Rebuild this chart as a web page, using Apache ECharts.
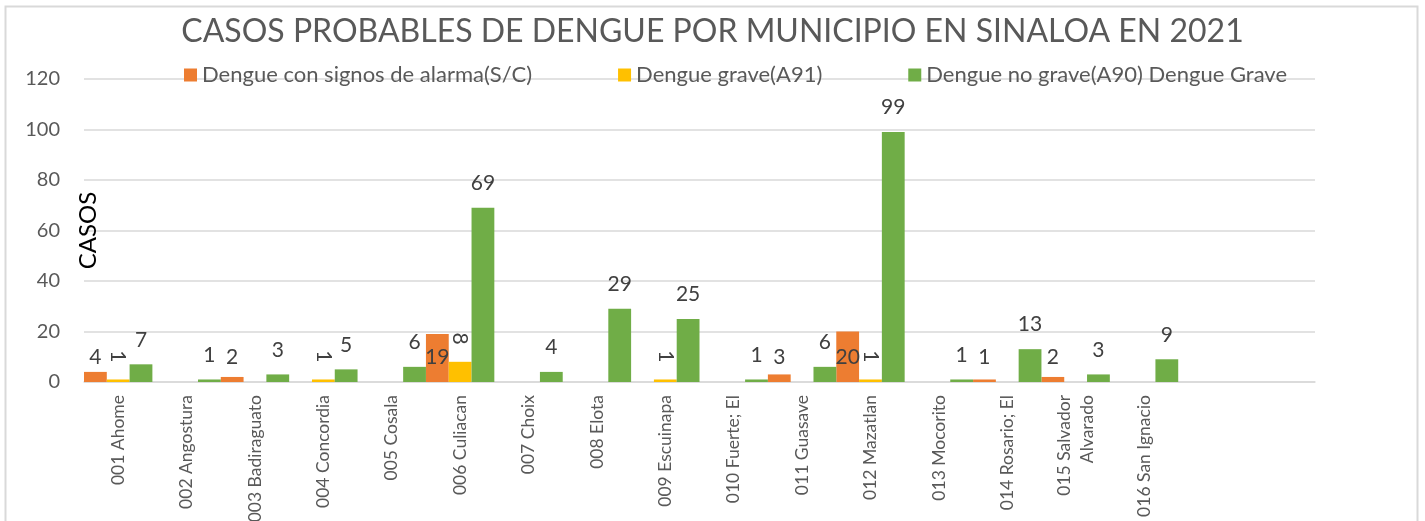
<!DOCTYPE html>
<html>
<head>
<meta charset="utf-8">
<title>Casos probables de dengue por municipio en Sinaloa 2021</title>
<script src="https://cdn.jsdelivr.net/npm/echarts@6/dist/echarts.min.js"></script>
<style>
    html, body { margin: 0; padding: 0; background: #fff; }
    #dengueChart { width: 1425px; height: 521px; }
</style>
</head>
<body>
<div id="dengueChart"></div>
<script>
var dom = document.getElementById("dengueChart");
var myChart;

// municipios (las dos ultimas categorias vienen vacias en la hoja)
var municipios = [
    '001 Ahome', '002 Angostura', '003 Badiraguato', '004 Concordia',
    '005 Cosala', '006 Culiacan', '007 Choix', '008 Elota',
    '009 Escuinapa', '010 Fuerte; El', '011 Guasave', '012 Mazatlan',
    '013 Mocorito', '014 Rosario; El', '015 Salvador\nAlvarado', '016 San Ignacio',
    '', ''
];

var nombresSeries = [
    'Dengue con signos de alarma(S/C)',
    'Dengue grave(A91)',
    'Dengue no grave(A90) Dengue Grave'
];

// null = celda vacia
var conAlarma = [4, null, 2, null, null, 19, null, null, null, null, 3, 20, null, 1, 2, null, null, null];
var grave     = [1, null, null, 1, null, 8, null, null, 1, null, null, 1, null, null, null, null, null, null];
var noGrave   = [7, 1, 3, 5, 6, 69, 4, 29, 25, 1, 6, 99, 1, 13, 3, 9, null, null];

var ticksY = { min: 0, max: 120, interval: 20 };

var fuente = 'Lato';
var grisTexto = '#595959';
var grisLinea = '#D9D9D9';

function initDengueChart() {
    var option = {
        backgroundColor: '#ffffff',
        animation: false,
        textStyle: { fontFamily: fuente },

        title: {
            text: 'CASOS PROBABLES DE DENGUE POR MUNICIPIO EN SINALOA EN 2021',
            left: 'center',
            top: 11,
            textStyle: {
                color: grisTexto,
                fontFamily: fuente,
                fontWeight: 'normal',
                fontSize: 32
            }
        },

        legend: {
            left: 179,
            top: 59,
            icon: 'rect',
            itemWidth: 13,
            itemHeight: 13,
            itemGap: 86,
            textStyle: {
                color: grisTexto,
                fontFamily: fuente,
                fontSize: 22
            },
            data: nombresSeries
        },

        grid: {
            left: 84,
            right: 110,
            top: 79,
            bottom: 139,
            outerBoundsMode: 'none'
        },

        xAxis: {
            type: 'category',
            data: municipios,
            axisTick: { show: false },
            axisLine: { lineStyle: { color: grisLinea, width: 1.5 } },
            axisLabel: {
                interval: 0,
                rotate: 90,
                margin: 13,
                color: grisTexto,
                fontFamily: fuente,
                fontSize: 17.5,
                lineHeight: 23
            }
        },

        yAxis: {
            type: 'value',
            min: ticksY.min,
            max: ticksY.max,
            interval: ticksY.interval,
            name: 'CASOS',
            nameLocation: 'middle',
            nameRotate: 90,
            nameGap: -16,
            nameMoveOverlap: false,
            nameTextStyle: {
                color: '#000000',
                fontFamily: fuente,
                fontSize: 24
            },
            axisLine: { show: false },
            axisTick: { show: false },
            axisLabel: {
                margin: 24,
                color: grisTexto,
                fontFamily: fuente,
                fontSize: 20
            },
            splitLine: { lineStyle: { color: grisLinea, width: 1.5 } }
        },

        series: [
            {
                name: nombresSeries[0],
                type: 'bar',
                barGap: '0%',
                barCategoryGap: '0%',
                data: conAlarma,
                itemStyle: { color: '#ED7D31' },
                label: {
                    show: true,
                    position: 'insideBottom',
                    distance: 14,
                    color: '#404040',
                    fontFamily: fuente,
                    fontSize: 21
                }
            },
            {
                name: nombresSeries[1],
                type: 'bar',
                barGap: '0%',
                barCategoryGap: '0%',
                data: grave,
                itemStyle: { color: '#FFC000' },
                label: {
                    show: true,
                    position: 'top',
                    distance: 17,
                    rotate: -90,
                    align: 'right',
                    verticalAlign: 'middle',
                    color: '#404040',
                    fontFamily: fuente,
                    fontSize: 21
                }
            },
            {
                name: nombresSeries[2],
                type: 'bar',
                barGap: '0%',
                barCategoryGap: '0%',
                data: noGrave,
                itemStyle: { color: '#70AD47' },
                label: {
                    show: true,
                    position: 'top',
                    distance: 14,
                    color: '#404040',
                    fontFamily: fuente,
                    fontSize: 21
                }
            }
        ],

        // marco del grafico
        graphic: [
            {
                type: 'rect',
                silent: true,
                shape: { x: 5.5, y: 6.5, width: 1412, height: 530 },
                style: { fill: null, stroke: grisLinea, lineWidth: 2 }
            }
        ]
    };

    myChart = echarts.init(dom, null, { renderer: 'canvas' });
    if (option && typeof option === "object") {
        myChart.setOption(option, true);
    }
}

initDengueChart();
</script>
</body>
</html>
